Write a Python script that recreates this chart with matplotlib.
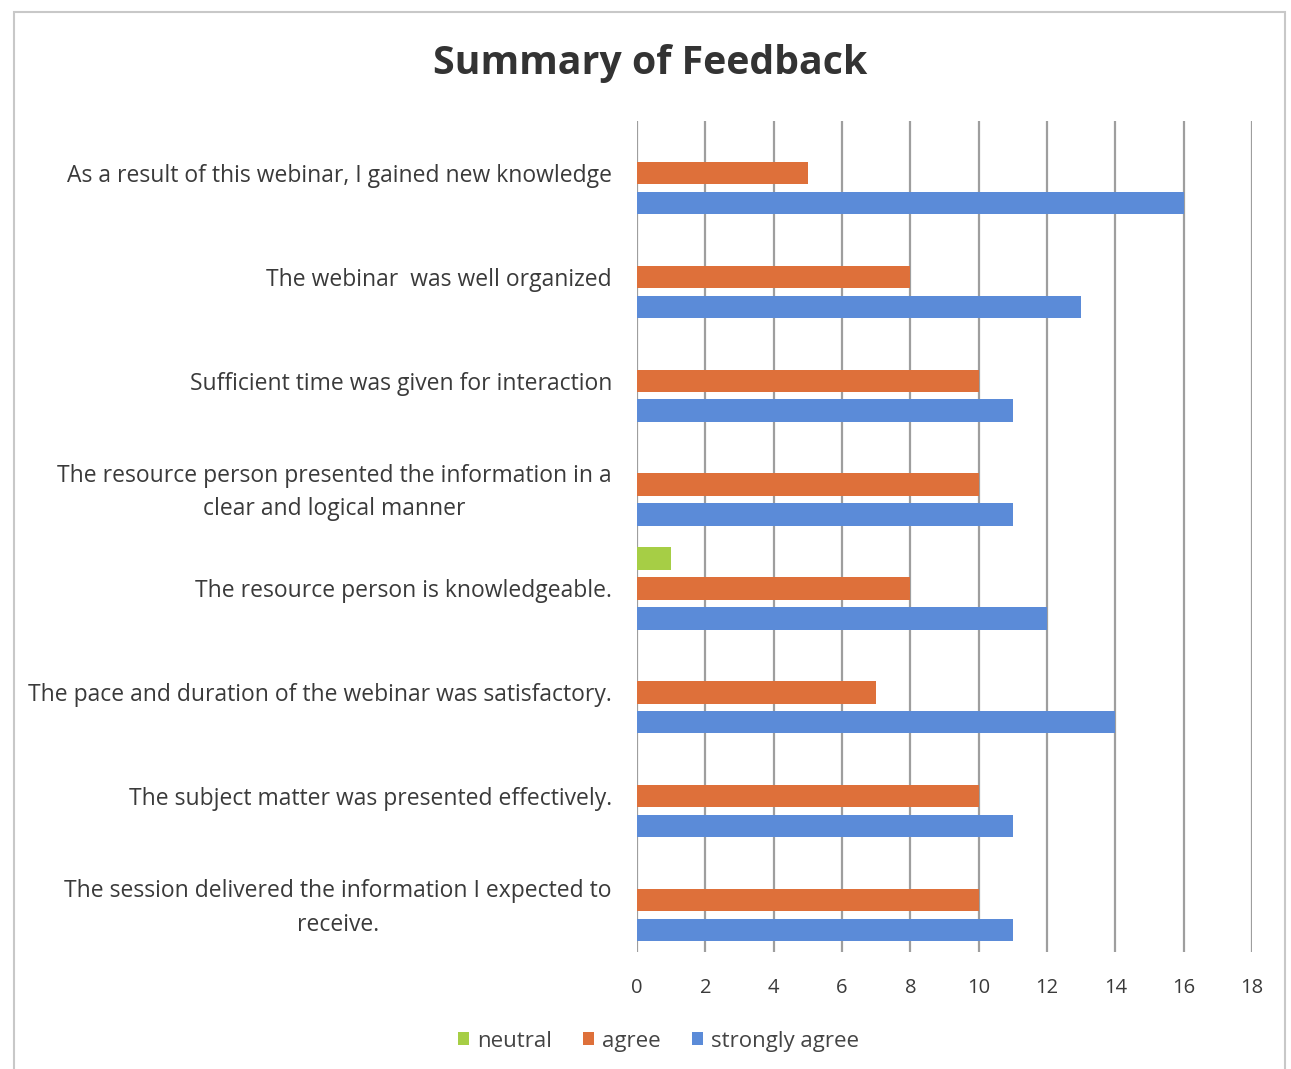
import numpy as np
import matplotlib.pyplot as plt
from matplotlib.patches import Rectangle

plt.rcParams["font.family"] = ["Open Sans", "DejaVu Sans"]

categories = [
    "As a result of this webinar, I gained new knowledge",
    "The webinar  was well organized",
    "Sufficient time was given for interaction",
    "The resource person presented the information in a\nclear and logical manner",
    "The resource person is knowledgeable.",
    "The pace and duration of the webinar was satisfactory.",
    "The subject matter was presented effectively.",
    "The session delivered the information I expected to\nreceive.",
]
neutral = [0, 0, 0, 0, 1, 0, 0, 0]
agree = [5, 8, 10, 10, 8, 7, 10, 10]
strongly_agree = [16, 13, 11, 11, 12, 14, 11, 11]
x_ticks = [0, 2, 4, 6, 8, 10, 12, 14, 16, 18]

COLORS = {
    "neutral": "#A6CE45",
    "agree": "#DE703A",
    "strongly agree": "#5B8BD8",
}

fig = plt.figure(figsize=(12.91, 10.69), dpi=100)
ax = fig.add_axes([0.4934, 0.1094, 0.4764, 0.7774])

# outer frame of the chart
fig.patches.append(Rectangle((0.011, -0.01), 0.984, 0.999, transform=fig.transFigure,
                             fill=False, edgecolor="#C8C8C8", linewidth=1.5))

y = np.arange(len(categories))
step = 0.288
h = 0.215
ax.barh(y - step, neutral, height=h, color=COLORS["neutral"], label="neutral")
ax.barh(y, agree, height=h, color=COLORS["agree"], label="agree")
ax.barh(y + step, strongly_agree, height=h, color=COLORS["strongly agree"], label="strongly agree")

ax.set_ylim(len(categories) - 0.5, -0.5)
ax.set_xlim(0, 18)
ax.set_xticks(x_ticks)
ax.set_yticks(y)
ax.set_yticklabels(categories, multialignment="center", linespacing=1.55)
ax.tick_params(axis="both", length=0, colors="#3A3A3A")
ax.tick_params(axis="y", pad=18, labelsize=16.5)
ax.tick_params(axis="x", pad=19, labelsize=14.5)
ax.xaxis.grid(True, color="#9E9E9E", linewidth=1.6)
ax.set_axisbelow(True)
for s in ax.spines.values():
    s.set_visible(False)

fig.text(0.5035, 0.941, "Summary of Feedback", ha="center", va="center",
         fontsize=28.3, fontweight="bold", color="#333333")

fig.legend(loc="center", bbox_to_anchor=(0.51, 0.026), ncol=3, frameon=False,
           fontsize=16, handlelength=0.5, handleheight=0.5, handletextpad=0.35,
           columnspacing=1.4, labelcolor="#444444")

fig.savefig("out.png", dpi=100)
